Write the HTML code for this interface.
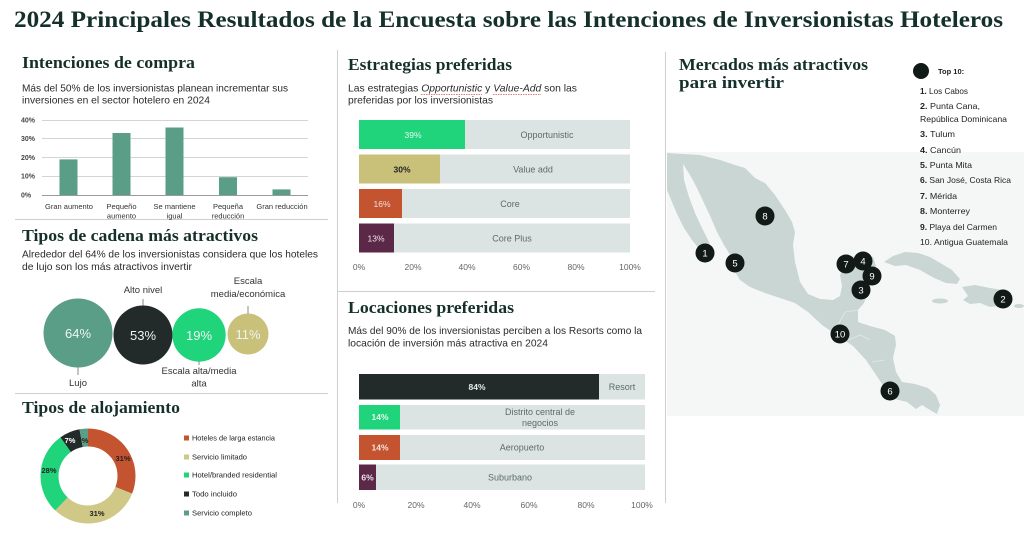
<!DOCTYPE html>
<html><head><meta charset="utf-8"><style>
html,body{margin:0;padding:0;background:#fff;}
svg{display:block;}
.s{font-family:"Liberation Sans",sans-serif;}
.r{font-family:"Liberation Serif",serif;font-weight:bold;fill:#15302a;}
</style></head><body>
<svg width="1024" height="537" viewBox="0 0 1024 537" xmlns="http://www.w3.org/2000/svg">
<rect width="1024" height="537" fill="#fff"/>
<!-- main title -->
<text class="r" x="14" y="27" font-size="23" textLength="989" lengthAdjust="spacingAndGlyphs" fill="#0f2a22">2024 Principales Resultados de la Encuesta sobre las Intenciones de Inversionistas Hoteleros</text>

<!-- dividers -->
<g stroke="#cfcfcf" stroke-width="1">
<line x1="337.5" y1="50" x2="337.5" y2="503"/>
<line x1="665.5" y1="52" x2="665.5" y2="503"/>
<line x1="15" y1="219.5" x2="328" y2="219.5"/>
<line x1="15" y1="393.5" x2="328" y2="393.5"/>
<line x1="338" y1="291.5" x2="655" y2="291.5"/>
</g>

<!-- ===== Intenciones de compra ===== -->
<text class="r" x="22" y="68" font-size="17" textLength="173" lengthAdjust="spacingAndGlyphs">Intenciones de compra</text>
<g class="s" font-size="10.5" fill="#2a2a2a">
<text x="22" y="91.5" textLength="266" lengthAdjust="spacingAndGlyphs">Más del 50% de los inversionistas planean incrementar sus</text>
<text x="22" y="103.5" textLength="188" lengthAdjust="spacingAndGlyphs">inversiones en el sector hotelero en 2024</text>
</g>
<g stroke="#d4d4d4" stroke-width="1">
<line x1="42" y1="120.5" x2="308" y2="120.5"/>
<line x1="42" y1="138.5" x2="308" y2="138.5"/>
<line x1="42" y1="157.5" x2="308" y2="157.5"/>
<line x1="42" y1="176.5" x2="308" y2="176.5"/>
</g>
<g fill="#5a9e88">
<rect x="59.5" y="159.4" width="18" height="35.6"/>
<rect x="112.5" y="133" width="18" height="62"/>
<rect x="165.5" y="127.5" width="18" height="67.5"/>
<rect x="219" y="177.2" width="18" height="17.8"/>
<rect x="272.5" y="189.4" width="18" height="5.6"/>
</g>
<line x1="42" y1="195.5" x2="308" y2="195.5" stroke="#9a9a9a" stroke-width="1"/>
<g class="s" font-size="7" font-weight="bold" fill="#444">
<text x="21" y="122.5">40%</text>
<text x="21" y="141">30%</text>
<text x="21" y="160">20%</text>
<text x="21" y="178.5">10%</text>
<text x="21" y="197.5">0%</text>
</g>
<g class="s" font-size="7.5" fill="#333" text-anchor="middle">
<text x="69" y="209">Gran aumento</text>
<text x="121.5" y="209">Pequeño</text><text x="121.5" y="218.5">aumento</text>
<text x="174.5" y="209">Se mantiene</text><text x="174.5" y="218.5">igual</text>
<text x="228" y="209">Pequeña</text><text x="228" y="218.5">reducción</text>
<text x="282" y="209">Gran reducción</text>
</g>

<!-- ===== Tipos de cadena ===== -->
<text class="r" x="22" y="241" font-size="17" textLength="236" lengthAdjust="spacingAndGlyphs">Tipos de cadena más atractivos</text>
<g class="s" font-size="10.5" fill="#2a2a2a">
<text x="22" y="257.5" textLength="296" lengthAdjust="spacingAndGlyphs">Alrededor del 64% de los inversionistas considera que los hoteles</text>
<text x="22" y="270" textLength="170" lengthAdjust="spacingAndGlyphs">de lujo son los más atractivos invertir</text>
</g>
<g stroke="#8a8a8a" stroke-width="1">
<line x1="143" y1="299" x2="143" y2="306"/>
<line x1="248" y1="306" x2="248" y2="314"/>
<line x1="78" y1="367" x2="78" y2="375"/>
<line x1="199" y1="361" x2="199" y2="365"/>
</g>
<circle cx="78" cy="333" r="34.5" fill="#5a9e88"/>
<circle cx="143" cy="335" r="29.5" fill="#222b29"/>
<circle cx="199" cy="335" r="26.7" fill="#20d47b"/>
<circle cx="248" cy="334" r="20.5" fill="#c9c07a"/>
<g class="s" font-size="13" fill="#eef5f2" text-anchor="middle">
<text x="78" y="338">64%</text>
<text x="143" y="340">53%</text>
<text x="199" y="340">19%</text>
<text x="248" y="339">11%</text>
</g>
<g class="s" font-size="9.5" fill="#333" text-anchor="middle">
<text x="143" y="293">Alto nivel</text>
<text x="248" y="284">Escala</text>
<text x="248" y="297">media/económica</text>
<text x="78" y="386">Lujo</text>
<text x="199" y="374">Escala alta/media</text>
<text x="199" y="386.5">alta</text>
</g>

<!-- ===== Tipos de alojamiento ===== -->
<text class="r" x="22" y="413" font-size="17" textLength="158" lengthAdjust="spacingAndGlyphs">Tipos de alojamiento</text>
<g transform="rotate(-90 88 476)" fill="none" stroke-width="18">
<circle cx="88" cy="476" r="38.5" stroke="#c4532f" stroke-dasharray="75 242" stroke-dashoffset="0"/>
<circle cx="88" cy="476" r="38.5" stroke="#cfc886" stroke-dasharray="75 242" stroke-dashoffset="-75"/>
<circle cx="88" cy="476" r="38.5" stroke="#20d47b" stroke-dasharray="67.7 242" stroke-dashoffset="-150"/>
<circle cx="88" cy="476" r="38.5" stroke="#222b29" stroke-dasharray="16.9 242" stroke-dashoffset="-217.7"/>
<circle cx="88" cy="476" r="38.5" stroke="#5a9e88" stroke-dasharray="7.4 242" stroke-dashoffset="-234.6"/>
</g>
<g class="s" font-size="7.5" font-weight="bold" fill="#222" text-anchor="middle">
<text x="123" y="461">31%</text>
<text x="97" y="516">31%</text>
<text x="49" y="473">28%</text>
<text x="70" y="443" fill="#fff">7%</text>
<text x="83" y="443">3%</text>
</g>
<g>
<rect x="184" y="435.5" width="5" height="5" fill="#c4532f"/>
<rect x="184" y="454.5" width="5" height="5" fill="#cfc886"/>
<rect x="184" y="472.5" width="5" height="5" fill="#20d47b"/>
<rect x="184" y="491.5" width="5" height="5" fill="#222b29"/>
<rect x="184" y="510.5" width="5" height="5" fill="#5a9e88"/>
</g>
<g class="s" font-size="7.5" fill="#222">
<text x="192" y="440.5" textLength="83" lengthAdjust="spacingAndGlyphs">Hoteles de larga estancia</text>
<text x="192" y="459.5" textLength="55" lengthAdjust="spacingAndGlyphs">Servicio limitado</text>
<text x="192" y="477.5" textLength="85" lengthAdjust="spacingAndGlyphs">Hotel/branded residential</text>
<text x="192" y="496.5" textLength="45" lengthAdjust="spacingAndGlyphs">Todo incluido</text>
<text x="192" y="515.5" textLength="60" lengthAdjust="spacingAndGlyphs">Servicio completo</text>
</g>

<!-- ===== Estrategias preferidas ===== -->
<text class="r" x="348" y="70" font-size="17" textLength="164" lengthAdjust="spacingAndGlyphs">Estrategias preferidas</text>
<g class="s" font-size="10.5" fill="#2a2a2a">
<text x="348" y="91.5" textLength="229" lengthAdjust="spacingAndGlyphs">Las estrategias <tspan font-style="italic">Opportunistic</tspan> y <tspan font-style="italic">Value-Add</tspan> son las</text>
<text x="348" y="103.5" textLength="145" lengthAdjust="spacingAndGlyphs">preferidas por los inversionistas</text>
</g>
<g stroke="#d9534f" stroke-width="0.8" stroke-dasharray="1.5 1">
<line x1="421" y1="94.5" x2="482" y2="94.5"/>
<line x1="493" y1="94.5" x2="541" y2="94.5"/>
</g>
<g fill="#dbe4e2">
<rect x="359" y="120" width="271" height="29"/>
<rect x="359" y="154.5" width="271" height="29"/>
<rect x="359" y="189" width="271" height="29"/>
<rect x="359" y="223.5" width="271" height="29"/>
</g>
<rect x="359" y="120" width="106" height="29" fill="#20d47b"/>
<rect x="359" y="154.5" width="81" height="29" fill="#c9c07a"/>
<rect x="359" y="189" width="43" height="29" fill="#c4532f"/>
<rect x="359" y="223.5" width="35" height="29" fill="#5b2848"/>
<g class="s" font-size="8.5" text-anchor="middle">
<text x="413" y="138" fill="#e6f7ee">39%</text>
<text x="402" y="172.5" fill="#222" font-weight="bold">30%</text>
<text x="382" y="207" fill="#f3e3dc">16%</text>
<text x="376" y="241.5" fill="#f0e4ec">13%</text>
</g>
<g class="s" font-size="9" fill="#5f6b69" text-anchor="middle">
<text x="547" y="138">Opportunistic</text>
<text x="533" y="172.5">Value add</text>
<text x="510" y="207">Core</text>
<text x="512" y="241.5">Core Plus</text>
</g>
<g class="s" font-size="8.5" fill="#666" text-anchor="middle">
<text x="359" y="270">0%</text>
<text x="413" y="270">20%</text>
<text x="467" y="270">40%</text>
<text x="521.5" y="270">60%</text>
<text x="576" y="270">80%</text>
<text x="630" y="270">100%</text>
</g>

<!-- ===== Locaciones preferidas ===== -->
<text class="r" x="348" y="313" font-size="17" textLength="166" lengthAdjust="spacingAndGlyphs">Locaciones preferidas</text>
<g class="s" font-size="10.5" fill="#2a2a2a">
<text x="348" y="334" textLength="294" lengthAdjust="spacingAndGlyphs">Más del 90% de los inversionistas perciben a los Resorts como la</text>
<text x="348" y="346.5" textLength="200" lengthAdjust="spacingAndGlyphs">locación de inversión más atractiva en 2024</text>
</g>
<g fill="#dbe4e2">
<rect x="359" y="374" width="286" height="25.5"/>
<rect x="359" y="405" width="286" height="24.5"/>
<rect x="359" y="435" width="286" height="25"/>
<rect x="359" y="464.5" width="286" height="25.5"/>
</g>
<rect x="359" y="374" width="240" height="25.5" fill="#222b29"/>
<rect x="359" y="405" width="41" height="24.5" fill="#20d47b"/>
<rect x="359" y="435" width="41" height="25" fill="#c4532f"/>
<rect x="359" y="464.5" width="17" height="25.5" fill="#5b2848"/>
<g class="s" font-size="8.5" font-weight="bold" text-anchor="middle">
<text x="477" y="390" fill="#e6ece9">84%</text>
<text x="380" y="420" fill="#e6f7ee">14%</text>
<text x="380" y="450.5" fill="#f3e3dc">14%</text>
<text x="367.5" y="480.5" fill="#f0e4ec">6%</text>
</g>
<g class="s" font-size="9" fill="#5f6b69" text-anchor="middle">
<text x="622" y="390">Resort</text>
<text x="540" y="415">Distrito central de</text>
<text x="540" y="426">negocios</text>
<text x="522" y="450.5">Aeropuerto</text>
<text x="510" y="480.5">Suburbano</text>
</g>
<g class="s" font-size="8.5" fill="#666" text-anchor="middle">
<text x="359" y="508">0%</text>
<text x="416" y="508">20%</text>
<text x="472" y="508">40%</text>
<text x="529" y="508">60%</text>
<text x="586" y="508">80%</text>
<text x="642" y="508">100%</text>
</g>

<!-- ===== Mercados ===== -->
<rect x="667" y="152" width="357" height="264" fill="#f5f7f6"/>
<g fill="#c9d6d3">
<path d="M667,153 L700,155 L720,160 L735,165 L745,168 L755,178 L765,183 L775,195 L785,210 L792,222 L795,232 L793,245 L795,262 L800,282 L808,294 L820,299 L833,300 L840,296 L842,286 L840,275 L846,263 L852,257 L866,254 L873,257 L876,266 L872,280 L868,293 L864,303 L858,310 L858,322 L870,326 L885,330 L895,336 L896,345 L893,358 L896,372 L902,382 L915,384 L928,388 L936,395 L940,405 L937,414 L930,410 L922,405 L916,409 L907,402 L895,399 L885,388 L876,375 L866,360 L853,346 L838,336 L822,325 L808,312 L795,303 L780,298 L765,293 L750,287 L740,280 L734,270 L732,258 L724,245 L717,232 L711,218 L704,203 L697,188 L690,175 L683,164 L684,180 L689,197 L695,213 L702,228 L709,242 L713,252 L708,256 L700,250 L692,240 L684,228 L677,214 L672,202 L667,190 Z"/>
<path d="M884,262 L893,256 L905,252 L918,253 L930,257 L942,264 L952,270 L960,279 L957,284 L946,283 L934,278 L920,270 L906,265 L895,266 Z"/>
<path d="M962,287 L975,285 L990,288 L1002,290 L1012,296 L1012,303 L1000,306 L990,307 L980,303 L970,304 L963,300 L968,296 Z"/>
<ellipse cx="940" cy="301" rx="8" ry="2.5"/>
<ellipse cx="1019" cy="306" rx="5" ry="2"/>
</g>
<g stroke="#e2e9e7" stroke-width="0.8" fill="none">
<path d="M858,310 L845,312 L838,325"/>
<path d="M848,340 L860,335 L870,340"/>
<path d="M872,362 L885,360"/>
</g>
<g fill="#121a18">
<circle cx="765" cy="216" r="9.5"/>
<circle cx="705" cy="253" r="9.5"/>
<circle cx="735" cy="263" r="9.5"/>
<circle cx="846" cy="264" r="9.5"/>
<circle cx="863" cy="261" r="9.5"/>
<circle cx="872" cy="276" r="9.5"/>
<circle cx="861" cy="290" r="9.5"/>
<circle cx="1003" cy="299" r="9.5"/>
<circle cx="840" cy="334" r="9.5"/>
<circle cx="890" cy="391" r="9.5"/>
<circle cx="921" cy="71" r="8"/>
</g>
<g class="s" font-size="9.5" fill="#fff" text-anchor="middle">
<text x="765" y="219.5">8</text>
<text x="705" y="256.5">1</text>
<text x="735" y="266.5">5</text>
<text x="846" y="267.5">7</text>
<text x="863" y="264.5">4</text>
<text x="872" y="279.5">9</text>
<text x="861" y="293.5">3</text>
<text x="1003" y="302.5">2</text>
<text x="840" y="337.5">10</text>
<text x="890" y="394.5">6</text>
</g>
<text class="r" x="679" y="70" font-size="17" textLength="189" lengthAdjust="spacingAndGlyphs">Mercados más atractivos</text>
<text class="r" x="679" y="88" font-size="17" textLength="105" lengthAdjust="spacingAndGlyphs">para invertir</text>
<g class="s" font-size="8.5" fill="#222">
<text x="938" y="74" font-weight="bold" font-size="7.5">Top 10:</text>
<text x="920" y="94" textLength="48" lengthAdjust="spacingAndGlyphs"><tspan font-weight="bold">1.</tspan> Los Cabos</text>
<text x="920" y="109" textLength="60" lengthAdjust="spacingAndGlyphs"><tspan font-weight="bold">2.</tspan> Punta Cana,</text>
<text x="920" y="122" textLength="87" lengthAdjust="spacingAndGlyphs">República Dominicana</text>
<text x="920" y="137" textLength="35" lengthAdjust="spacingAndGlyphs"><tspan font-weight="bold">3.</tspan> Tulum</text>
<text x="920" y="153" textLength="41" lengthAdjust="spacingAndGlyphs"><tspan font-weight="bold">4.</tspan> Cancún</text>
<text x="920" y="168" textLength="52" lengthAdjust="spacingAndGlyphs"><tspan font-weight="bold">5.</tspan> Punta Mita</text>
<text x="920" y="183" textLength="91" lengthAdjust="spacingAndGlyphs"><tspan font-weight="bold">6.</tspan> San José, Costa Rica</text>
<text x="920" y="199" textLength="37" lengthAdjust="spacingAndGlyphs"><tspan font-weight="bold">7.</tspan> Mérida</text>
<text x="920" y="214" textLength="50" lengthAdjust="spacingAndGlyphs"><tspan font-weight="bold">8.</tspan> Monterrey</text>
<text x="920" y="230" textLength="77" lengthAdjust="spacingAndGlyphs"><tspan font-weight="bold">9.</tspan> Playa del Carmen</text>
<text x="920" y="245" textLength="88" lengthAdjust="spacingAndGlyphs">10. Antigua Guatemala</text>
</g>
</svg>
</body></html>
